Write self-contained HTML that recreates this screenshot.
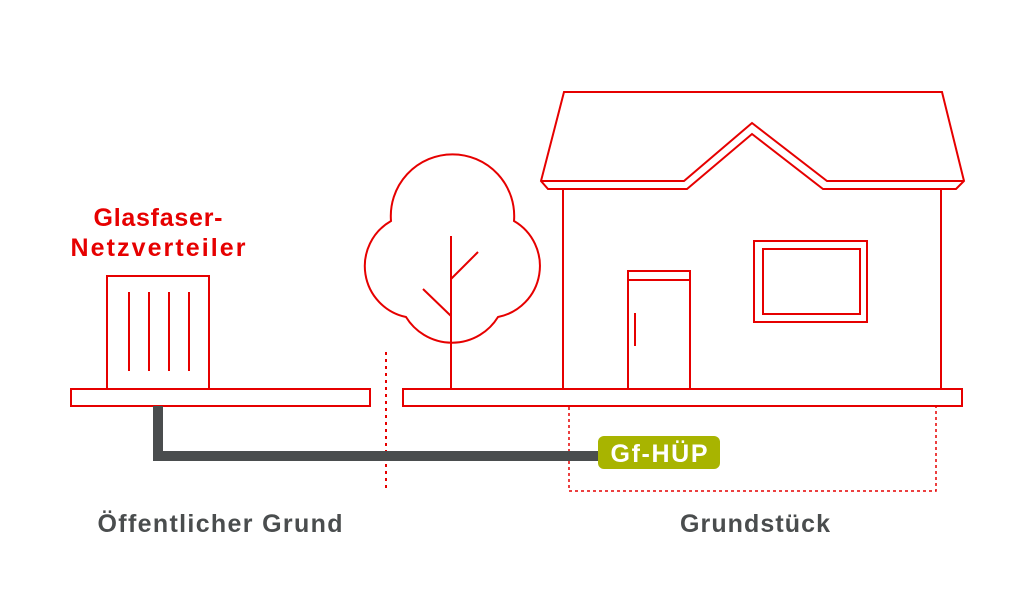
<!DOCTYPE html>
<html><head><meta charset="utf-8"><style>
html,body{margin:0;padding:0;background:#fff;}
svg{display:block;}
text{font-family:"Liberation Sans",sans-serif;font-weight:bold;}
</style></head><body>
<svg width="1030" height="591" viewBox="0 0 1030 591">
<g fill="none" stroke="#e60000" stroke-width="2">
<rect x="71" y="389" width="299" height="17" fill="#fff"/>
<rect x="403" y="389" width="559" height="17" fill="#fff"/>
<rect x="107" y="276" width="102" height="113"/>
<line x1="129" y1="292" x2="129" y2="371"/>
<line x1="149" y1="292" x2="149" y2="371"/>
<line x1="169" y1="292" x2="169" y2="371"/>
<line x1="189" y1="292" x2="189" y2="371"/>
<path d="M391 221 A61.7 61.7 0 1 1 514 221 A52 52 0 0 1 498 317 A54 54 0 0 1 406 317 A52 52 0 0 1 391 221 Z"/>
<line x1="451" y1="236" x2="451" y2="389"/>
<line x1="451" y1="279" x2="478" y2="252"/>
<line x1="451" y1="316" x2="423" y2="289"/>
<path d="M541 181 L564 92 L942 92 L964 181 L956 189 L823 189 L752 134 L687 189 L548 189 Z"/>
<path d="M541 181 L684 181 L752 123 L827 181 L964 181"/>
<line x1="563" y1="189" x2="563" y2="389"/>
<line x1="941" y1="189" x2="941" y2="389"/>
<rect x="628" y="271" width="62" height="118"/>
<line x1="628" y1="280" x2="690" y2="280"/>
<line x1="635" y1="313" x2="635" y2="346"/>
<rect x="754" y="241" width="113" height="81"/>
<rect x="763" y="249" width="97" height="65"/>
<rect x="569" y="406" width="367" height="85" stroke-width="1.5" stroke-dasharray="3 3"/>
<line x1="386" y1="352" x2="386" y2="492" stroke-width="2" stroke-dasharray="3 4"/>
</g>
<path d="M158 406 L158 456 L605 456" fill="none" stroke="#4a4d4e" stroke-width="10"/>
<rect x="598" y="436" width="122" height="33" rx="6" fill="#a8b400"/>
<text x="659" y="462" font-size="25" fill="#fff" text-anchor="middle" textLength="97">Gf-HÜP</text>
<text x="158" y="226" font-size="25" fill="#e60000" text-anchor="middle" textLength="129">Glasfaser-</text>
<text x="158" y="256" font-size="25" fill="#e60000" text-anchor="middle" textLength="175">Netzverteiler</text>
<text x="220" y="532" font-size="25" fill="#4a4d4e" text-anchor="middle" textLength="245">Öffentlicher Grund</text>
<text x="755" y="532" font-size="25" fill="#4a4d4e" text-anchor="middle" textLength="150">Grundstück</text>
</svg>
</body></html>
